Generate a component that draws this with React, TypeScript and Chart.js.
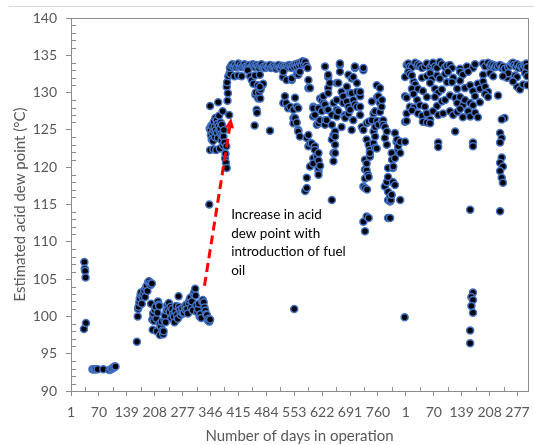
import React, { useEffect, useRef } from "react";
import { Chart, registerables } from "chart.js";

Chart.register(...registerables);

type DayValue = [number, number];

// x-axis: continuous operating-day index (category position); labels restart after day 828
const xTickLabels = ["1", "70", "139", "208", "277", "346", "415", "484", "553", "622", "691", "760", "1", "70", "139", "208", "277"];
const LABEL_STEP = 69;
const FIRST_DAY = 1;
const LAST_DAY = 1131;
const Y_MIN = 90;
const Y_MAX = 140;
const Y_STEP = 5;

// Before fuel oil: first weeks
const gasEarly: DayValue[] = [
  [33, 98.3], [34, 107.3], [35, 106.4], [36, 106.1], [37, 105.2], [38, 99.1],
  [54, 92.9], [56, 92.9], [58, 92.9], [60, 92.9], [63, 92.9], [67, 92.9], [81, 92.9],
  [96, 92.8], [100, 92.9], [102, 93.0], [106, 93.1], [108, 93.3], [111, 93.3],
];

// Before fuel oil: second block
const gasLate: DayValue[] = [
  [164, 96.6], [166, 100.0], [167, 101.0], [168, 101.3], [170, 101.9], [171, 102.4], [173, 102.9],
  [174, 103.2], [176, 101.7], [178, 102.6], [180, 103.0], [182, 103.5], [184, 102.6], [186, 103.8],
  [188, 104.1], [190, 103.4], [192, 104.6], [194, 104.7], [196, 104.4], [198, 104.2], [199, 101.7],
  [201, 104.4], [202, 99.6], [203, 98.2], [204, 100.4], [206, 99.4], [208, 100.8], [210, 101.3],
  [212, 99.7], [213, 98.0], [215, 100.5], [216, 102.0], [218, 101.6], [219, 101.4], [220, 99.0],
  [221, 97.5], [223, 98.6], [225, 99.3], [227, 98.1], [229, 97.6], [230, 98.0], [232, 99.5],
  [233, 100.1], [235, 99.2], [237, 100.8], [239, 101.5], [241, 101.0], [243, 101.8], [245, 100.6],
  [247, 101.3], [249, 99.8], [251, 101.0], [253, 100.3], [255, 100.0], [257, 99.2], [259, 100.7],
  [261, 101.4], [263, 100.2], [265, 99.7], [267, 102.7], [268, 101.3], [270, 100.9], [272, 100.2],
  [274, 100.6], [276, 101.1], [278, 100.4], [280, 100.5], [282, 101.3], [284, 100.9], [286, 101.6],
  [288, 101.0], [290, 100.4], [292, 101.8], [294, 102.2], [296, 102.5], [298, 101.2], [300, 102.0],
  [302, 100.8], [304, 103.0], [306, 103.3], [308, 103.7], [309, 102.8], [311, 101.5], [313, 100.6],
  [315, 101.0], [317, 101.7], [319, 100.0], [321, 100.3], [323, 99.8], [325, 102.0], [327, 102.2],
  [329, 101.9], [331, 101.2], [333, 100.8], [335, 100.3], [337, 100.2], [339, 99.5], [341, 99.7],
  [343, 99.3], [345, 99.6],
];

// After introduction of fuel oil, first run
const fuelOilRun1: DayValue[] = [
  [343, 115.0], [344, 125.2], [345, 128.2], [345, 122.3], [346, 125.0], [347, 124.3], [348, 125.6],
  [349, 123.7], [350, 125.5], [351, 124.6], [352, 123.5], [353, 122.4], [354, 126.1], [355, 124.9],
  [356, 125.4], [357, 124.0], [358, 126.6], [359, 125.0], [360, 122.3], [361, 126.3], [362, 124.6],
  [363, 125.8], [364, 123.9], [365, 128.7], [366, 125.5], [367, 126.9], [368, 124.9], [369, 122.5],
  [370, 125.2], [371, 126.0], [372, 124.4], [373, 123.6], [374, 125.7], [375, 124.2], [376, 127.5],
  [377, 122.9], [378, 124.1], [379, 125.0], [380, 123.3], [382, 121.2], [383, 121.8], [384, 120.6],
  [385, 122.8], [386, 119.9], [386, 130.8], [387, 131.4], [388, 128.9], [389, 129.9], [390, 132.2],
  [392, 127.0], [393, 132.6], [395, 132.5],
  [394, 133.3], [397, 133.6], [400, 133.8], [403, 133.5], [406, 133.7], [409, 133.4], [412, 133.6],
  [415, 133.9], [418, 133.5], [421, 133.7], [424, 133.4], [427, 133.6], [430, 133.8], [433, 133.5],
  [436, 133.3], [439, 133.6], [442, 133.7], [445, 133.4], [448, 133.5], [451, 133.8], [454, 133.6],
  [457, 133.4], [460, 133.7], [463, 133.5], [466, 133.3], [469, 133.6], [472, 133.8], [475, 133.4],
  [478, 133.5], [481, 133.3], [484, 133.6], [487, 133.4], [490, 133.5], [493, 133.7], [496, 133.3],
  [499, 133.5], [502, 133.6], [505, 133.4], [508, 133.2], [511, 133.5], [514, 133.7], [517, 133.4],
  [520, 133.3], [523, 133.6], [526, 133.4], [529, 133.5], [532, 133.3], [535, 133.6], [538, 133.4],
  [541, 133.7], [544, 133.5], [547, 133.3], [550, 133.6], [553, 133.4], [556, 133.8], [559, 133.5],
  [562, 133.9], [565, 133.6], [568, 134.0], [571, 133.7], [574, 134.2], [577, 133.8], [580, 134.1],
  [583, 133.6], [586, 133.3],
  [405, 132.2], [414, 132.3], [423, 132.2], [438, 133.0], [444, 132.2], [448, 131.7], [452, 131.2],
  [455, 125.6], [456, 132.3], [457, 129.7], [458, 130.0], [460, 127.7], [461, 127.3], [463, 131.0],
  [464, 129.2], [466, 130.0], [470, 130.4], [474, 131.0], [476, 131.2], [468, 132.4], [468, 130.8],
  [469, 129.2], [493, 124.9],
  [525, 132.1], [526, 132.8], [526, 128.6], [530, 129.5], [533, 128.6], [534, 131.7], [538, 127.9],
  [543, 128.1], [547, 131.7], [547, 131.9], [551, 126.6], [551, 125.9], [551, 127.7], [553, 101.0],
  [555, 129.3], [555, 126.6], [559, 132.4], [559, 128.1], [559, 126.0], [563, 125.0], [563, 132.4],
  [563, 127.9], [563, 124.8], [567, 132.8], [567, 124.1], [580, 116.8], [584, 123.9], [584, 118.6],
  [584, 117.2], [588, 124.3], [588, 130.6], [588, 131.7], [588, 122.8], [592, 130.6], [592, 123.2],
  [592, 120.1], [596, 123.2], [600, 121.2], [600, 128.1], [600, 126.8], [600, 127.9], [600, 120.5],
  [604, 122.8], [604, 127.0], [604, 122.3], [609, 125.7], [609, 121.4], [613, 121.9], [613, 120.9],
  [613, 119.5], [613, 127.9], [613, 125.9], [613, 119.9], [613, 119.0], [617, 120.2], [617, 129.2],
  [617, 126.3],
  [621, 129.0], [621, 127.5], [625, 128.6], [625, 129.5], [629, 133.5], [629, 128.4], [629, 126.3],
  [629, 125.7], [633, 127.7], [633, 126.3], [637, 130.6], [637, 132.1], [637, 132.4], [637, 129.9],
  [637, 127.7], [641, 131.3], [646, 115.6], [646, 127.0], [646, 125.7], [646, 123.7], [650, 128.6],
  [650, 124.3], [650, 121.9], [650, 120.8], [654, 123.0], [654, 124.8], [654, 124.1], [654, 121.9],
  [658, 131.3], [658, 129.0], [658, 127.7], [658, 126.8], [662, 127.5], [662, 131.3], [666, 133.7],
  [666, 133.9], [666, 132.8], [670, 130.1], [670, 125.4], [674, 128.6], [674, 129.5], [679, 127.0],
  [679, 126.6], [683, 130.8], [683, 128.8], [687, 128.1], [687, 127.2], [687, 132.4], [691, 129.9],
  [691, 127.7], [695, 131.9], [695, 125.0], [695, 129.9], [699, 129.0], [699, 126.3], [699, 132.1],
  [703, 133.3], [703, 133.5], [703, 128.4], [708, 130.1], [708, 128.1], [708, 131.3], [716, 129.5],
  [716, 127.0], [716, 130.1], [716, 128.1], [720, 125.4], [724, 133.0], [724, 133.3], [724, 125.0],
  [724, 112.7], [724, 117.4], [728, 111.4], [728, 121.0], [728, 118.5], [728, 117.2], [728, 119.7],
  [732, 123.7], [732, 119.6], [732, 113.4], [732, 125.9], [732, 120.5], [733, 117.0], [735, 119.0],
  [737, 126.1], [737, 118.7], [737, 113.2], [737, 123.0], [740, 122.3], [740, 121.4], [740, 121.9],
  [745, 128.8], [745, 126.3], [749, 127.2], [749, 123.2], [749, 124.8], [753, 125.4], [753, 127.5],
  [753, 124.1], [753, 122.6], [757, 122.5], [757, 131.0], [758, 129.4], [758, 126.2], [761, 129.5],
  [761, 125.7], [765, 128.6], [765, 130.6], [765, 127.4], [769, 128.1], [770, 129.0], [770, 126.2],
  [773, 126.3], [773, 125.7], [777, 125.4], [777, 123.9], [777, 117.4], [782, 124.8], [782, 123.0],
  [782, 118.0], [785, 118.7], [785, 116.7], [785, 115.6], [785, 119.9], [785, 113.2], [790, 113.2],
  [790, 116.0], [790, 115.4], [792, 115.6], [794, 121.9], [794, 116.3], [795, 121.0], [797, 118.0],
  [797, 119.9], [798, 120.1], [802, 124.6], [802, 121.2], [802, 117.6], [806, 123.4], [807, 123.7],
  [810, 122.3], [810, 122.8], [815, 123.4], [815, 121.9], [815, 115.6], [826, 99.9], [827, 123.4],
];

// Second run (day counter restarts at label "1")
const fuelOilRun2: DayValue[] = [
  [831, 133.7], [835, 133.9], [839, 133.5], [844, 133.4], [852, 134.0], [857, 133.6], [859, 133.8],
  [864, 133.6], [869, 133.3], [876, 133.5], [881, 133.9], [889, 133.4], [893, 133.7], [896, 134.0],
  [901, 133.5], [906, 133.3], [913, 134.1], [918, 133.8], [926, 133.4], [931, 133.6], [938, 133.7],
  [943, 133.3], [963, 133.2], [980, 133.5], [995, 133.3], [1000, 133.8], [1020, 133.9], [1025, 133.5],
  [1032, 134.0], [1037, 133.6], [1040, 133.8], [1045, 133.7], [1049, 133.4], [1052, 133.6], [1057, 133.5],
  [1062, 133.7], [1066, 133.3], [1069, 133.5], [1074, 133.2], [1082, 133.4], [1087, 133.6], [1091, 133.9],
  [1094, 134.0], [1097, 133.7], [1101, 133.5], [1104, 133.8], [1108, 133.3], [1111, 133.6], [1115, 133.4],
  [1119, 133.2], [1122, 133.7], [1124, 133.5], [1127, 133.9], [1129, 133.4],
  [835, 132.8], [827, 132.1], [839, 132.5], [848, 131.5], [844, 132.3], [869, 132.0], [881, 132.2],
  [889, 132.6], [893, 131.8], [906, 132.3], [913, 131.9], [926, 132.5], [933, 132.8], [946, 132.0],
  [963, 132.8], [970, 132.4], [983, 132.8], [1020, 132.4], [1037, 132.6], [1045, 132.2], [1079, 132.0],
  [1082, 132.6], [1099, 132.3], [1104, 132.1], [1124, 132.6], [1129, 132.2], [1069, 132.2],
  [852, 131.1], [844, 130.5], [859, 130.5], [827, 129.5], [848, 129.8], [871, 130.2], [889, 131.3],
  [901, 130.5], [909, 130.0], [918, 130.4], [931, 131.4], [943, 131.4], [956, 130.5], [963, 131.6],
  [975, 130.6], [988, 131.0], [995, 130.2], [1007, 131.2], [1012, 130.5], [1020, 131.5], [1025, 130.8],
  [1032, 130.1], [1104, 130.8], [1111, 130.4], [1119, 131.1], [1129, 131.0], [1094, 131.5],
  [831, 129.3], [839, 128.1], [848, 128.0], [857, 129.0], [864, 128.3], [876, 128.1], [881, 129.4],
  [901, 129.4], [906, 128.2], [918, 128.8], [926, 129.0], [938, 129.6], [951, 129.3], [956, 128.6],
  [963, 129.4], [970, 128.3], [975, 129.0], [988, 128.6], [995, 128.3], [1000, 129.5], [1012, 128.7],
  [1025, 129.8], [1032, 129.4], [1057, 129.6],
  [831, 127.2], [844, 127.6], [859, 127.2], [869, 126.9], [881, 127.2], [889, 126.4], [896, 127.5],
  [909, 127.0], [921, 127.2], [938, 127.5], [946, 127.0], [956, 127.4], [963, 127.8], [970, 126.7],
  [983, 127.5], [988, 126.8], [1000, 127.3], [1007, 126.7], [1073, 126.6], [1066, 126.4],
  [827, 126.1], [831, 126.2], [871, 126.1], [881, 126.0], [889, 125.9], [909, 123.3], [909, 122.7],
  [951, 124.8], [995, 123.3], [995, 122.8], [1062, 124.6], [1066, 123.9], [1062, 123.3], [1066, 121.3],
  [1062, 120.6], [1069, 120.1], [1062, 119.5], [1066, 118.6], [1069, 117.9], [1062, 114.1], [988, 114.3],
  [995, 103.2], [991, 102.6], [995, 102.2], [991, 101.4], [995, 100.5], [988, 98.1], [988, 96.4],
];

// Annotation (in data coordinates)
const annotationLines = ["Increase in acid", "dew point with", "introduction of fuel", "oil"];
const annotationAnchor = { day: 397, value: 113.6 };
const arrowFrom = { day: 331, value: 104.1 };
const arrowTo = { day: 397, value: 126.6 };

const AXIS_COLOR = "#8c8c8c";
const TEXT_COLOR = "#595959";
const FONT = "Lato";

const majorTickDays = xTickLabels.map((_, i) => FIRST_DAY + i * LABEL_STEP);

const decorPlugin = {
  id: "decor",
  beforeDraw(chart: any) {
    const ctx = chart.ctx;
    ctx.save();
    ctx.fillStyle = "#ffffff";
    ctx.fillRect(0, 0, chart.width, chart.height);
    ctx.strokeStyle = "#d9d9d9";
    ctx.lineWidth = 1;
    ctx.beginPath();
    ctx.moveTo(9, 6.5);
    ctx.lineTo(chart.width, 6.5);
    ctx.stroke();
    ctx.restore();
  },
  beforeDatasetsDraw(chart: any) {
    const { ctx, chartArea } = chart;
    const xs = chart.scales.x;
    const ys = chart.scales.y;
    ctx.save();
    ctx.strokeStyle = AXIS_COLOR;
    ctx.lineWidth = 1;
    ctx.beginPath();
    ctx.moveTo(Math.round(chartArea.left) - 5, Math.round(chartArea.top) + 0.5);
    ctx.lineTo(Math.round(chartArea.right) + 0.5, Math.round(chartArea.top) + 0.5);
    ctx.lineTo(Math.round(chartArea.right) + 0.5, Math.round(chartArea.bottom) + 0.5);
    ctx.stroke();
    ctx.beginPath();
    for (let v = Y_MIN + 1; v < Y_MAX; v++) {
      if (v % Y_STEP === 0) continue;
      const py = Math.round(ys.getPixelForValue(v)) + 0.5;
      ctx.moveTo(Math.round(chartArea.left), py);
      ctx.lineTo(Math.round(chartArea.left) + 5, py);
    }
    for (let i = 0; i < majorTickDays.length; i++) {
      const d = majorTickDays[i] + LABEL_STEP / 2;
      if (d > LAST_DAY) continue;
      const px = Math.round(xs.getPixelForValue(d)) + 0.5;
      ctx.moveTo(px, Math.round(chartArea.bottom));
      ctx.lineTo(px, Math.round(chartArea.bottom) - 4);
    }
    ctx.stroke();
    ctx.restore();
  },
  afterDatasetsDraw(chart: any) {
    const { ctx } = chart;
    const xs = chart.scales.x;
    const ys = chart.scales.y;
    const x0 = xs.getPixelForValue(arrowFrom.day);
    const y0 = ys.getPixelForValue(arrowFrom.value);
    const x1 = xs.getPixelForValue(arrowTo.day);
    const y1 = ys.getPixelForValue(arrowTo.value);
    const ang = Math.atan2(y1 - y0, x1 - x0);
    const headLen = 10;
    const headHalf = 4.5;
    const bx = x1 - headLen * Math.cos(ang);
    const by = y1 - headLen * Math.sin(ang);
    ctx.save();
    ctx.strokeStyle = "#ff0000";
    ctx.fillStyle = "#ff0000";
    ctx.lineWidth = 3;
    ctx.setLineDash([9, 5]);
    ctx.beginPath();
    ctx.moveTo(x0, y0);
    ctx.lineTo(bx, by);
    ctx.stroke();
    ctx.setLineDash([]);
    ctx.beginPath();
    ctx.moveTo(x1, y1);
    ctx.lineTo(bx + headHalf * Math.sin(ang), by - headHalf * Math.cos(ang));
    ctx.lineTo(bx - headHalf * Math.sin(ang), by + headHalf * Math.cos(ang));
    ctx.closePath();
    ctx.fill();
    const tx = xs.getPixelForValue(annotationAnchor.day);
    const ty = ys.getPixelForValue(annotationAnchor.value);
    ctx.font = `13.5px ${FONT}`;
    ctx.fillStyle = "#000000";
    ctx.textAlign = "left";
    ctx.textBaseline = "middle";
    annotationLines.forEach((line, i) => ctx.fillText(line, tx, ty + i * 18.5));
    ctx.restore();
  },
};

function toPoints(arr: DayValue[]) {
  return arr.map(([x, y]) => ({ x, y }));
}

const pointStyle = {
  showLine: false,
  pointRadius: 3.5,
  pointBorderWidth: 1.5,
  pointBackgroundColor: "#000000",
  pointBorderColor: "#4472C4",
};

export default function App() {
  const ref = useRef<HTMLCanvasElement>(null);
  useEffect(() => {
    if (!ref.current) return;
    const chart = new Chart(ref.current, {
      type: "scatter",
      data: {
        datasets: [
          { label: "gasEarly", data: toPoints(gasEarly), ...pointStyle },
          { label: "gasLate", data: toPoints(gasLate), ...pointStyle },
          { label: "fuelOilRun1", data: toPoints(fuelOilRun1), ...pointStyle },
          { label: "fuelOilRun2", data: toPoints(fuelOilRun2), ...pointStyle },
        ],
      },
      options: {
        animation: false,
        responsive: false,
        devicePixelRatio: 1,
        layout: { padding: { top: 18, right: 6, left: 0, bottom: 0 } },
        plugins: { legend: { display: false }, tooltip: { enabled: false } },
        scales: {
          x: {
            type: "linear",
            min: FIRST_DAY,
            max: LAST_DAY,
            border: { color: AXIS_COLOR, width: 1 },
            grid: { drawOnChartArea: false, drawTicks: true, tickLength: 5, color: AXIS_COLOR },
            afterBuildTicks: (scale: any) => {
              scale.ticks = majorTickDays.map((v) => ({ value: v }));
            },
            afterFit: (scale: any) => {
              scale.height = 54;
              scale.paddingLeft = 0;
              scale.paddingRight = 0;
            },
            ticks: {
              autoSkip: false,
              maxRotation: 0,
              padding: 8,
              color: TEXT_COLOR,
              font: { family: FONT, size: 14 },
              callback: (value: any) => {
                const i = Math.round((Number(value) - FIRST_DAY) / LABEL_STEP);
                return xTickLabels[i] ?? "";
              },
            },
            title: {
              display: true,
              text: "Number of days in operation",
              color: TEXT_COLOR,
              font: { family: FONT, size: 15 },
              padding: { top: 0, bottom: 0 },
            },
          },
          y: {
            type: "linear",
            min: Y_MIN,
            max: Y_MAX,
            border: { color: AXIS_COLOR, width: 1 },
            grid: { drawOnChartArea: false, drawTicks: true, tickLength: 5, color: AXIS_COLOR },
            afterFit: (scale: any) => {
              scale.width = 71;
              scale.paddingTop = 0;
              scale.paddingBottom = 0;
            },
            ticks: {
              stepSize: Y_STEP,
              autoSkip: false,
              padding: 9,
              color: TEXT_COLOR,
              font: { family: FONT, size: 14 },
            },
            title: {
              display: true,
              text: "Estimated acid dew point (°C)",
              color: TEXT_COLOR,
              font: { family: FONT, size: 15 },
              padding: { top: 11, bottom: 0 },
            },
          },
        },
      },
      plugins: [decorPlugin],
    } as any);
    return () => chart.destroy();
  }, []);
  return (
    <div style={{ position: "fixed", left: 0, top: 0, width: 534, height: 445, background: "#fff" }}>
      <canvas ref={ref} width={534} height={445} style={{ display: "block", width: 534, height: 445 }} />
    </div>
  );
}
